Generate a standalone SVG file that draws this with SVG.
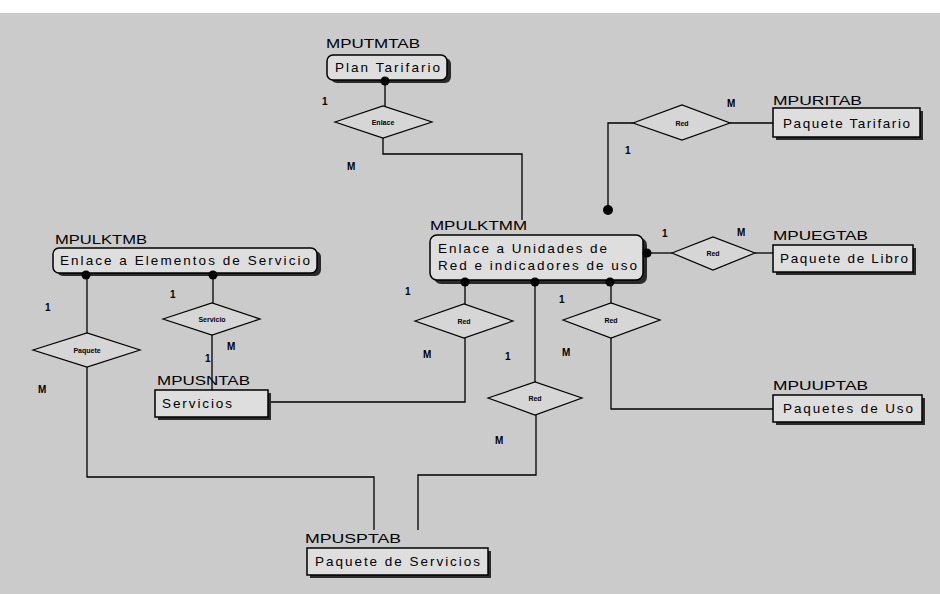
<svg xmlns="http://www.w3.org/2000/svg" width="940" height="594" viewBox="0 0 940 594">
<defs>
<style>
.bg{fill:#cbcbcb}
.box{fill:#dedede;stroke:#000;stroke-width:1.5}
.shadow{fill:#2a2a2a}
.code{font-family:"Liberation Sans",Arial,sans-serif;font-size:13px;fill:#000}
.txt{font-family:"Liberation Sans",Arial,sans-serif;font-size:13.5px;fill:#000}
.card{font-family:"Liberation Sans",Arial,sans-serif;font-size:10px;font-weight:bold;fill:#000}
.rel{fill:#d6d6d6;stroke:#000;stroke-width:1.2}
.rlab{font-family:"Liberation Sans",Arial,sans-serif;font-size:7px;font-weight:bold;fill:#000;text-anchor:middle}
.ln{fill:none;stroke:#000;stroke-width:1.3}
.dot{fill:#000}
</style>
</defs>
<rect x="0" y="0" width="940" height="594" fill="#ffffff"/>
<rect class="bg" x="0" y="13" width="940" height="581"/>

<g id="rel-enlace">
  <polygon class="rel" points="335,122 383,106 432,122 383,138"/>
  <text class="rlab" x="383" y="125">Enlace</text>
  <text class="card" x="322" y="105">1</text>
  <text class="card" x="347" y="170">M</text>
</g>
<g id="rel-red-tarifario">
  <polygon class="rel" points="633,123 682,105 730,123 682,140"/>
  <text class="rlab" x="682" y="126">Red</text>
  <text class="card" x="727" y="107">M</text>
  <text class="card" x="625" y="154">1</text>
</g>
<g id="rel-red-libro">
  <polygon class="rel" points="672,253 713,237 755,253 713,270"/>
  <text class="rlab" x="713" y="256">Red</text>
  <text class="card" x="662" y="237">1</text>
  <text class="card" x="737" y="236">M</text>
</g>
<g id="rel-red-servicios">
  <polygon class="rel" points="415,321 464,304 513,321 464,338"/>
  <text class="rlab" x="464" y="324">Red</text>
  <text class="card" x="405" y="295">1</text>
  <text class="card" x="423" y="358">M</text>
</g>
<g id="rel-red-paqserv">
  <polygon class="rel" points="488,398 535,382 582,398 535,415"/>
  <text class="rlab" x="535" y="401">Red</text>
  <text class="card" x="505" y="360">1</text>
  <text class="card" x="495" y="444">M</text>
</g>
<g id="rel-red-uso">
  <polygon class="rel" points="563,320 611,303 660,320 611,338"/>
  <text class="rlab" x="611" y="323">Red</text>
  <text class="card" x="559" y="303">1</text>
  <text class="card" x="562" y="356">M</text>
</g>
<g id="rel-paquete">
  <polygon class="rel" points="33,350 87,333 140,350 87,367"/>
  <text class="rlab" x="87" y="353">Paquete</text>
  <text class="card" x="45" y="311">1</text>
  <text class="card" x="38" y="393">M</text>
</g>
<g id="rel-servicio">
  <polygon class="rel" points="163,319 212,303 260,319 212,335"/>
  <text class="rlab" x="212" y="322">Servicio</text>
  <text class="card" x="170" y="298">1</text>
  <text class="card" x="227" y="350">M</text>
  <text class="card" x="205" y="362">1</text>
</g>

<g id="MPUTMTAB">
  <text class="code" x="326" y="48" textLength="94" lengthAdjust="spacingAndGlyphs">MPUTMTAB</text>
  <rect class="shadow" x="331" y="58" width="120" height="25" rx="6"/>
  <rect class="box" x="327" y="55" width="120" height="25" rx="6"/>
  <text class="txt" x="335" y="72" textLength="105" lengthAdjust="spacing">Plan Tarifario</text>
</g>
<g id="MPURITAB">
  <text class="code" x="773" y="105" textLength="89" lengthAdjust="spacingAndGlyphs">MPURITAB</text>
  <rect class="shadow" x="776" y="111" width="147" height="29"/>
  <rect class="box" x="773" y="108" width="147" height="29"/>
  <text class="txt" x="783" y="128" textLength="127" lengthAdjust="spacing">Paquete Tarifario</text>
</g>
<g id="MPUEGTAB">
  <text class="code" x="773" y="240" textLength="95" lengthAdjust="spacingAndGlyphs">MPUEGTAB</text>
  <rect class="shadow" x="776" y="248" width="140" height="27"/>
  <rect class="box" x="773" y="245" width="140" height="27"/>
  <text class="txt" x="780" y="263" textLength="128" lengthAdjust="spacing">Paquete de Libro</text>
</g>
<g id="MPUUPTAB">
  <text class="code" x="773" y="390" textLength="95" lengthAdjust="spacingAndGlyphs">MPUUPTAB</text>
  <rect class="shadow" x="776" y="398" width="149" height="27"/>
  <rect class="box" x="773" y="395" width="149" height="27"/>
  <text class="txt" x="783" y="413" textLength="130" lengthAdjust="spacing">Paquetes de Uso</text>
</g>
<g id="MPULKTMM">
  <text class="code" x="430" y="230" textLength="97" lengthAdjust="spacingAndGlyphs">MPULKTMM</text>
  <rect class="shadow" x="434" y="238" width="213" height="46" rx="7"/>
  <rect class="box" x="430" y="235" width="213" height="45" rx="7"/>
  <text class="txt" x="438" y="253" textLength="169" lengthAdjust="spacing">Enlace a Unidades de</text>
  <text class="txt" x="438" y="270" textLength="199" lengthAdjust="spacing">Red e indicadores de uso</text>
</g>
<g id="MPULKTMB">
  <text class="code" x="55" y="244" textLength="92" lengthAdjust="spacingAndGlyphs">MPULKTMB</text>
  <rect class="shadow" x="57" y="251" width="264" height="25" rx="6"/>
  <rect class="box" x="53" y="248" width="264" height="25" rx="6"/>
  <text class="txt" x="60" y="265" textLength="250" lengthAdjust="spacing">Enlace a Elementos de Servicio</text>
</g>
<g id="MPUSNTAB">
  <text class="code" x="157" y="385" textLength="93" lengthAdjust="spacingAndGlyphs">MPUSNTAB</text>
  <rect class="shadow" x="158" y="393" width="113" height="27"/>
  <rect class="box" x="155" y="390" width="113" height="27"/>
  <text class="txt" x="162" y="408" textLength="70" lengthAdjust="spacing">Servicios</text>
</g>
<g id="MPUSPTAB">
  <text class="code" x="305" y="543" textLength="96" lengthAdjust="spacingAndGlyphs">MPUSPTAB</text>
  <rect class="shadow" x="310" y="551" width="181" height="27"/>
  <rect class="box" x="307" y="548" width="181" height="27"/>
  <text class="txt" x="315" y="566" textLength="165" lengthAdjust="spacing">Paquete de Servicios</text>
</g>

<g id="connectors">
  <polyline class="ln" points="385,83 385,106"/>
  <polyline class="ln" points="383,138 383,154 522,154 522,220"/>
  <polyline class="ln" points="773,123 730,123"/>
  <polyline class="ln" points="633,123 608,123 608,210"/>
  <polyline class="ln" points="647,253 672,253"/>
  <polyline class="ln" points="755,253 773,253"/>
  <polyline class="ln" points="465,284 465,304"/>
  <polyline class="ln" points="465,338 465,402 271,402"/>
  <polyline class="ln" points="535,284 535,382"/>
  <polyline class="ln" points="536,415 536,475 418,475 418,530"/>
  <polyline class="ln" points="611,284 611,303"/>
  <polyline class="ln" points="611,338 611,409 773,409"/>
  <polyline class="ln" points="87,276 87,333"/>
  <polyline class="ln" points="87,367 87,477 374,477 374,530"/>
  <polyline class="ln" points="213,276 213,303"/>
  <polyline class="ln" points="212,335 212,390"/>
  <circle class="dot" cx="385" cy="81" r="4.5"/>
  <circle class="dot" cx="608" cy="210" r="5"/>
  <circle class="dot" cx="647" cy="253" r="4.5"/>
  <circle class="dot" cx="465" cy="282" r="4.5"/>
  <circle class="dot" cx="535" cy="282" r="4.5"/>
  <circle class="dot" cx="610" cy="282" r="4.5"/>
  <circle class="dot" cx="86" cy="275" r="4.5"/>
  <circle class="dot" cx="213" cy="275" r="4.5"/>
</g>
</svg>
